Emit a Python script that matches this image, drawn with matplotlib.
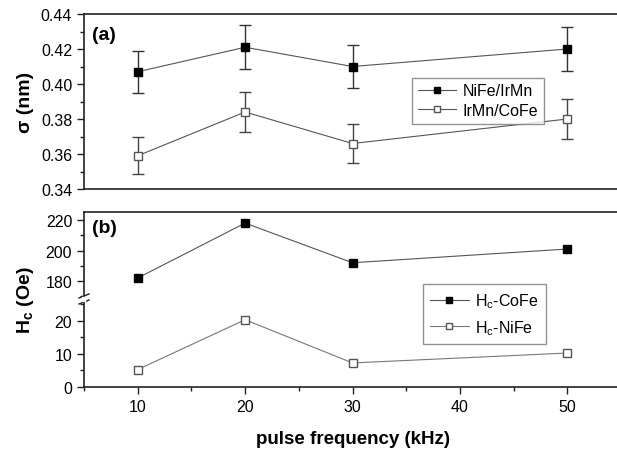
import numpy as np
import matplotlib.pyplot as plt
from matplotlib.ticker import MultipleLocator

plt.rcParams['font.family'] = ['Liberation Sans', 'DejaVu Sans']

freq = [10, 20, 30, 50]
sigma_nife = [0.407, 0.421, 0.410, 0.420]
sigma_nife_err = [0.012, 0.0125, 0.0125, 0.0125]
sigma_irmn = [0.359, 0.384, 0.366, 0.380]
sigma_irmn_err = [0.0105, 0.0115, 0.011, 0.0115]
hc_cofe = [182, 218, 192, 201]
hc_nife = [5.2, 20.3, 7.2, 10.2]

W, H = 617, 452
fig = plt.figure(figsize=(W / 100, H / 100), dpi=100)

def box(x0, y0, x1, y1):
    # pixel box (top-left origin) -> figure fraction
    return [x0 / W, 1 - y1 / H, (x1 - x0) / W, (y1 - y0) / H]

x_left, x_right = 84, 621
ax1 = fig.add_axes(box(x_left, 15, x_right, 190))
ax_hi = fig.add_axes(box(x_left, 213.4, x_right, 301.9))
ax_lo = fig.add_axes(box(x_left, 301.9, x_right, 387.7))

lc = '#555555'
fs = 11.5
ms = 5.5

# (a)
ax1.errorbar(freq, sigma_nife, yerr=sigma_nife_err, color=lc, lw=0.8,
             marker='s', ms=ms, mfc='black', mec='black', ecolor='#333333',
             elinewidth=1.0, capsize=4, label='NiFe/IrMn')
ax1.errorbar(freq, sigma_irmn, yerr=sigma_irmn_err, color=lc, lw=0.8,
             marker='s', ms=ms, mfc='white', mec='#555555', ecolor='#444444',
             elinewidth=1.0, capsize=4, label='IrMn/CoFe')
ax1.set_xlim(5, 55)
ax1.set_ylim(0.34, 0.44)
ax1.yaxis.set_major_locator(MultipleLocator(0.02))
ax1.yaxis.set_minor_locator(MultipleLocator(0.01))
ax1.set_yticklabels([f'{v:.2f}' for v in ax1.get_yticks()])
ax1.set_xticks([])
ax1.set_ylabel('σ (nm)', fontsize=14, fontweight='bold', labelpad=5)
ax1.text(0.015, 0.93, '(a)', transform=ax1.transAxes, fontsize=14,
         fontweight='bold', va='top')
h, l = ax1.get_legend_handles_labels()
ax1.legend([hh[0] for hh in h], l, loc='upper left',
           bbox_to_anchor=((404 - x_left) / (x_right - x_left), (190 - 70.7) / 175),
           fontsize=11.5, frameon=True, fancybox=False, edgecolor='#777777',
           handlelength=2.4, borderpad=0.35, labelspacing=0.3,
           handletextpad=0.4, markerscale=0.75)

# (b)
for ax in (ax_hi, ax_lo):
    ax.plot(freq, hc_cofe, color=lc, lw=0.8, marker='s', ms=ms,
            mfc='black', mec='black', label='H$_\\mathregular{c}$-CoFe')
    ax.plot(freq, hc_nife, color='#777777', lw=0.8, marker='s', ms=ms,
            mfc='white', mec='#555555', label='H$_\\mathregular{c}$-NiFe')
    ax.set_xlim(5, 55)

ax_hi.set_ylim(167, 225)
ax_lo.set_ylim(0, 26)
ax_hi.yaxis.set_major_locator(MultipleLocator(20))
ax_hi.yaxis.set_minor_locator(MultipleLocator(10))
ax_lo.yaxis.set_major_locator(MultipleLocator(10))
ax_lo.yaxis.set_minor_locator(MultipleLocator(5))
ax_hi.set_xticks([])
ax_hi.spines['bottom'].set_visible(False)
ax_lo.spines['top'].set_visible(False)
ax_lo.xaxis.set_major_locator(MultipleLocator(10))
ax_lo.xaxis.set_minor_locator(MultipleLocator(5))
ax_lo.set_xticks([10, 20, 30, 40, 50])
ax_lo.set_xlabel('pulse frequency (kHz)', fontsize=13.5, fontweight='bold',
                 labelpad=12)
ax_hi.text(0.015, 0.93, '(b)', transform=ax_hi.transAxes, fontsize=14,
           fontweight='bold', va='top')
fig.text(25 / W, 1 - 300 / H, 'H$_\\mathregular{c}$ (Oe)', rotation=90,
         fontsize=14, fontweight='bold', ha='center', va='center')
ax_hi.legend(loc='upper left',
             bbox_to_anchor=((415 - x_left) / (x_right - x_left),
                             (301.9 - 277) / 88.5),
             fontsize=11.5, frameon=True, fancybox=False, edgecolor='#777777',
             handlelength=2.4, borderpad=0.45, labelspacing=0.5,
             handletextpad=0.4, markerscale=0.75)

for ax in (ax1, ax_hi, ax_lo):
    ax.tick_params(which='both', direction='out', labelsize=fs,
                   top=False, right=False, width=1.0, color='#222222')
    ax.tick_params(which='major', length=5)
    ax.tick_params(which='minor', length=3)
    for s in ax.spines.values():
        s.set_linewidth(1.2)
        s.set_color('#222222')
    ax.spines['right'].set_visible(False)
    ax.patch.set_alpha(0)

# axis break marks on the left spine
for dy in (-3, 3):
    ybr = 1 - (300 + dy) / H
    fig.add_artist(plt.Line2D([(x_left - 5) / W, (x_left + 5) / W],
                              [ybr - 2 / H, ybr + 2 / H],
                              color='#222222', lw=1.0))
fig.add_artist(plt.Rectangle(((x_left - 1.5) / W, 1 - 302 / H), 3 / W, 4 / H,
                             color='white', zorder=5))

fig.savefig('out.png', dpi=100)
